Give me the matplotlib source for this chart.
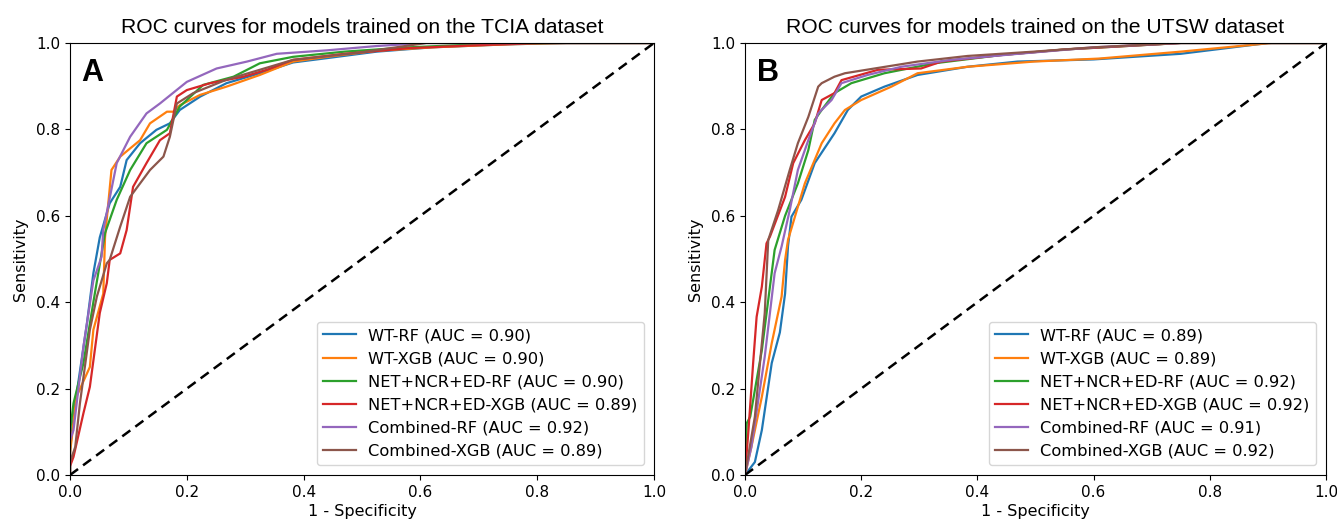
import numpy as np
import matplotlib
matplotlib.use("Agg")
import matplotlib.pyplot as plt

# ---- TCIA (panel A) curves ----
tcia_wt_rf_fpr = [0, 0, 0.009, 0.029, 0.04, 0.051, 0.068, 0.086, 0.097, 0.12, 0.148, 0.171, 0.188, 0.223, 0.268, 0.325, 0.382, 0.44, 0.525, 0.62, 0.75, 0.85, 1.0]
tcia_wt_rf_tpr = [0, 0.06, 0.166, 0.351, 0.467, 0.55, 0.629, 0.667, 0.729, 0.768, 0.799, 0.814, 0.845, 0.876, 0.907, 0.93, 0.955, 0.965, 0.98, 0.99, 0.997, 1.0, 1.0]

tcia_wt_xgb_fpr = [0, 0, 0.011, 0.034, 0.04, 0.057, 0.06, 0.071, 0.086, 0.12, 0.137, 0.166, 0.177, 0.188, 0.223, 0.268, 0.325, 0.382, 0.44, 0.525, 0.62, 0.75, 0.85, 1.0]
tcia_wt_xgb_tpr = [0, 0.05, 0.181, 0.25, 0.336, 0.42, 0.55, 0.706, 0.737, 0.775, 0.814, 0.841, 0.841, 0.856, 0.88, 0.899, 0.926, 0.957, 0.968, 0.982, 0.99, 0.997, 1.0, 1.0]

tcia_net_rf_fpr = [0, 0, 0.006, 0.023, 0.04, 0.06, 0.08, 0.103, 0.131, 0.166, 0.188, 0.228, 0.28, 0.325, 0.382, 0.47, 0.58, 0.7, 0.82, 1.0]
tcia_net_rf_tpr = [0, 0.1, 0.166, 0.259, 0.4, 0.56, 0.637, 0.706, 0.768, 0.799, 0.853, 0.903, 0.922, 0.953, 0.968, 0.98, 0.99, 0.997, 1.0, 1.0]

tcia_net_xgb_fpr = [0, 0, 0.006, 0.023, 0.034, 0.051, 0.063, 0.068, 0.086, 0.097, 0.108, 0.131, 0.154, 0.171, 0.183, 0.2, 0.24, 0.297, 0.337, 0.382, 0.47, 0.58, 0.7, 0.81, 1.0]
tcia_net_xgb_tpr = [0, 0.02, 0.042, 0.143, 0.204, 0.375, 0.444, 0.498, 0.513, 0.567, 0.667, 0.722, 0.775, 0.791, 0.876, 0.891, 0.907, 0.922, 0.938, 0.961, 0.975, 0.988, 0.995, 1.0, 1.0]

tcia_comb_rf_fpr = [0, 0, 0.006, 0.023, 0.04, 0.054, 0.057, 0.08, 0.103, 0.131, 0.154, 0.2, 0.251, 0.303, 0.354, 0.44, 0.525, 0.61, 0.75, 1.0]
tcia_comb_rf_tpr = [0, 0.08, 0.104, 0.297, 0.45, 0.505, 0.567, 0.722, 0.783, 0.837, 0.86, 0.91, 0.941, 0.957, 0.975, 0.983, 0.993, 1.0, 1.0, 1.0]

tcia_comb_xgb_fpr = [0, 0, 0.009, 0.017, 0.034, 0.046, 0.063, 0.068, 0.086, 0.103, 0.137, 0.16, 0.171, 0.183, 0.211, 0.268, 0.325, 0.382, 0.497, 0.61, 0.75, 1.0]
tcia_comb_xgb_tpr = [0, 0.03, 0.065, 0.166, 0.336, 0.413, 0.49, 0.498, 0.575, 0.644, 0.706, 0.737, 0.783, 0.86, 0.884, 0.915, 0.938, 0.961, 0.978, 1.0, 1.0, 1.0]

# ---- UTSW (panel B) curves ----
utsw_wt_rf_fpr = [0, 0.017, 0.029, 0.046, 0.06, 0.069, 0.074, 0.08, 0.097, 0.12, 0.154, 0.177, 0.2, 0.24, 0.297, 0.383, 0.469, 0.6, 0.75, 0.9, 1.0]
utsw_wt_rf_tpr = [0, 0.03, 0.104, 0.259, 0.33, 0.42, 0.529, 0.598, 0.637, 0.722, 0.791, 0.845, 0.876, 0.899, 0.926, 0.945, 0.957, 0.962, 0.975, 1.0, 1.0]

utsw_wt_xgb_fpr = [0, 0.011, 0.029, 0.046, 0.063, 0.069, 0.074, 0.103, 0.132, 0.154, 0.172, 0.2, 0.252, 0.297, 0.383, 0.497, 0.61, 0.75, 0.906, 1.0]
utsw_wt_xgb_tpr = [0, 0.065, 0.181, 0.305, 0.413, 0.498, 0.544, 0.675, 0.768, 0.814, 0.845, 0.868, 0.899, 0.93, 0.945, 0.957, 0.964, 0.98, 1.0, 1.0]

utsw_net_rf_fpr = [0, 0.003, 0.009, 0.029, 0.051, 0.069, 0.091, 0.109, 0.12, 0.132, 0.154, 0.183, 0.24, 0.326, 0.44, 0.55, 0.75, 1.0]
utsw_net_rf_tpr = [0, 0.12, 0.135, 0.289, 0.521, 0.6, 0.675, 0.752, 0.822, 0.845, 0.884, 0.907, 0.93, 0.953, 0.972, 0.985, 1.0, 1.0]

utsw_net_xgb_fpr = [0, 0.006, 0.014, 0.02, 0.029, 0.037, 0.043, 0.069, 0.083, 0.103, 0.12, 0.132, 0.154, 0.166, 0.229, 0.303, 0.338, 0.44, 0.55, 0.75, 1.0]
utsw_net_xgb_tpr = [0, 0.104, 0.259, 0.366, 0.436, 0.536, 0.552, 0.644, 0.722, 0.775, 0.814, 0.868, 0.884, 0.914, 0.938, 0.941, 0.957, 0.972, 0.985, 1.0, 1.0]

utsw_comb_rf_fpr = [0, 0.011, 0.034, 0.051, 0.063, 0.077, 0.091, 0.109, 0.126, 0.149, 0.166, 0.211, 0.269, 0.355, 0.47, 0.6, 0.75, 1.0]
utsw_comb_rf_tpr = [0, 0.065, 0.274, 0.467, 0.529, 0.613, 0.706, 0.775, 0.837, 0.868, 0.907, 0.926, 0.945, 0.961, 0.975, 0.99, 1.0, 1.0]

utsw_comb_xgb_fpr = [0, 0.017, 0.034, 0.04, 0.057, 0.077, 0.091, 0.109, 0.126, 0.132, 0.154, 0.172, 0.223, 0.297, 0.383, 0.497, 0.6, 0.75, 1.0]
utsw_comb_xgb_tpr = [0, 0.135, 0.375, 0.544, 0.613, 0.706, 0.768, 0.829, 0.899, 0.907, 0.922, 0.93, 0.941, 0.957, 0.97, 0.98, 0.99, 1.0, 1.0]

model_names = ["WT-RF", "WT-XGB", "NET+NCR+ED-RF", "NET+NCR+ED-XGB", "Combined-RF", "Combined-XGB"]
tcia_auc = [0.90, 0.90, 0.90, 0.89, 0.92, 0.89]
utsw_auc = [0.89, 0.89, 0.92, 0.92, 0.91, 0.92]

tcia_curves = [(tcia_wt_rf_fpr, tcia_wt_rf_tpr), (tcia_wt_xgb_fpr, tcia_wt_xgb_tpr),
               (tcia_net_rf_fpr, tcia_net_rf_tpr), (tcia_net_xgb_fpr, tcia_net_xgb_tpr),
               (tcia_comb_rf_fpr, tcia_comb_rf_tpr), (tcia_comb_xgb_fpr, tcia_comb_xgb_tpr)]
utsw_curves = [(utsw_wt_rf_fpr, utsw_wt_rf_tpr), (utsw_wt_xgb_fpr, utsw_wt_xgb_tpr),
               (utsw_net_rf_fpr, utsw_net_rf_tpr), (utsw_net_xgb_fpr, utsw_net_xgb_tpr),
               (utsw_comb_rf_fpr, utsw_comb_rf_tpr), (utsw_comb_xgb_fpr, utsw_comb_xgb_tpr)]

colors = ["#1f77b4", "#ff7f0e", "#2ca02c", "#d62728", "#9467bd", "#8c564b"]

fig = plt.figure(figsize=(13.37, 5.26), dpi=100)
ax1 = fig.add_axes([70/1337, 1-475/526, 584/1337, 432/526])
ax2 = fig.add_axes([745/1337, 1-475/526, 581/1337, 432/526])

panels = [(ax1, tcia_curves, tcia_auc, "TCIA", "A"), (ax2, utsw_curves, utsw_auc, "UTSW", "B")]
for ax, curves, aucs, dset, letter in panels:
    for (fpr, tpr), name, auc, c in zip(curves, model_names, aucs, colors):
        ax.plot(fpr, tpr, color=c, lw=1.6, label="%s (AUC = %.2f)" % (name, auc))
    ax.plot([0, 1], [0, 1], 'k--', lw=1.8, dashes=(4, 2.5))
    ax.set_xlim(0, 1)
    ax.set_ylim(0, 1)
    ax.set_xlabel("1 - Specificity", fontsize=11.5, labelpad=3)
    ax.set_ylabel("Sensitivity", fontsize=11.5, labelpad=6)
    ax.set_title("ROC curves for models trained on the %s dataset" % dset,
                 fontsize=15.2, family="Liberation Sans", pad=7)
    ax.tick_params(labelsize=11)
    ax.text(0.02, 0.965, letter, transform=ax.transAxes, fontsize=22, fontweight="bold",
            family="Liberation Sans", va="top", ha="left")
    ax.legend(loc="lower right", fontsize=11.7, borderaxespad=0.6, labelspacing=0.5)

fig.savefig("out.png", dpi=100)
